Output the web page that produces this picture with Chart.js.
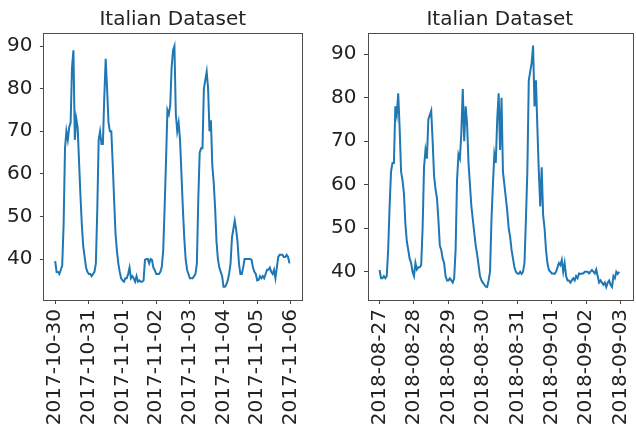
<!DOCTYPE html>
<html><head><meta charset="utf-8">
<script src="https://cdn.jsdelivr.net/npm/chart.js@4.4.1/dist/chart.umd.min.js"></script>
<style>
html,body{margin:0;padding:0;background:#fff;overflow:hidden;width:636px;height:426px}
#wrap{position:relative;width:636px;height:426px;overflow:hidden;background:#fff}
canvas{position:absolute;top:0}
</style></head><body>
<div id="wrap">
<canvas id="c1" width="320" height="426" style="left:0px;width:320px;height:426px"></canvas>
<canvas id="c2" width="330" height="426" style="left:320px;width:330px;height:426px"></canvas>
</div>
<script>
const titleText = 'Italian Dataset';
const tickHours = [0, 24, 48, 72, 96, 120, 144, 168];
const leftTickLabels = ['2017-10-30','2017-10-31','2017-11-01','2017-11-02','2017-11-03','2017-11-04','2017-11-05','2017-11-06'];
const rightTickLabels = ['2018-08-27','2018-08-28','2018-08-29','2018-08-30','2018-08-31','2018-09-01','2018-09-02','2018-09-03'];
const yTicks = [40, 50, 60, 70, 80, 90];

// hourly values, left panel (2017-10-30 00:00 .. 2017-11-05 23:00)
const leftValues = [
  39.5, 37, 37, 36.5, 37.5, 38.5, 48, 66, 70, 68, 71, 72, 85, 89, 68, 73, 71, 63, 55, 48, 43, 40.5, 38, 37,
  36.5, 36.5, 36, 36.5, 37, 39, 51.5, 68, 70, 67, 67, 78, 87, 80, 72, 70, 70, 62.5, 54, 46, 42, 39, 37, 35.5,
  35, 34.7, 35.5, 35.5, 36.5, 38, 35.5, 36, 35.5, 34.7, 36, 34.7, 35, 34.7, 34.7, 35, 39.8, 40, 40, 39, 40, 39.8, 38, 37.4,
  36.5, 36.5, 36.5, 37, 38.2, 42, 52, 63, 75, 74, 76, 85, 89, 90, 74, 70, 72, 68, 60, 52, 45, 40, 37.5, 36.5,
  35.5, 35.5, 35.5, 36, 36.5, 39, 54, 65, 66, 66, 80, 82, 84, 80, 70, 72.6, 62, 58, 52, 44, 40, 38, 37, 36,
  33.5, 33.5, 34, 35, 36.6, 39, 45, 47, 49, 47, 44, 39, 36.5, 36.5, 38, 40, 40, 40, 40, 40, 39.8, 38, 37, 36.5,
  35, 35.1, 36, 35.5, 36, 35.5, 36.5, 37.5, 37.5, 38, 37, 36.5, 37.5, 35.5, 38, 40.5, 41, 41, 41, 40.5, 40.5, 41, 40.5, 39
];

// hourly values, right panel (2018-08-27 00:00 .. 2018-09-02 23:00)
const rightValues = [
  40.4, 38.5, 38.5, 39, 38.5, 39, 45, 55, 63, 65, 65, 78, 76, 81, 73, 63, 61, 58, 51, 47, 45, 43, 42, 40,
  39, 42, 40.5, 41, 41, 41.5, 50, 64, 68, 66, 75, 76, 77, 70, 62, 59, 57, 52, 46, 45, 43, 42, 39, 38,
  38, 38.5, 38, 37.5, 38.5, 45, 61, 67, 66, 72, 82, 70, 78, 74, 65, 60, 55, 52, 49, 46, 44, 41.5, 39, 38,
  37.5, 37, 36.6, 36.5, 38, 40, 52, 60, 67, 65, 75, 81, 68, 80, 63, 60, 57, 54, 50, 48, 45, 43, 41, 40,
  39.6, 39.5, 40, 39.5, 40, 42, 52, 63, 84, 86, 88, 92, 78, 84, 73, 63, 55, 64, 53, 50, 45, 42, 40.4, 40,
  39.6, 39.6, 39.5, 40, 41, 42, 41.5, 42.7, 40, 42, 39, 38, 38, 37.5, 38, 38.5, 38, 39, 38.5, 39.6, 39.5, 39.6, 39.6, 40,
  40, 40, 39.6, 40, 40.4, 40, 39.6, 40.5, 39, 37.5, 38, 37.5, 37, 37.5, 36.5, 37.5, 38, 37, 36.5, 39, 38.5, 40, 39.5, 40
];

Chart.defaults.font.family = "'DejaVu Sans', sans-serif";
Chart.defaults.font.size = 20;
Chart.defaults.color = '#222';

const framePlugin = {
  id: 'frame',
  afterDraw(chart) {
    const {ctx, chartArea: a} = chart;
    ctx.save();
    ctx.strokeStyle = '#4d4d4d';
    ctx.lineWidth = 1;
    ctx.strokeRect(Math.round(a.left) + 0.5, Math.round(a.top) + 0.5, Math.round(a.right - a.left), Math.round(a.bottom - a.top));
    // axes title, centred over the plot area
    ctx.fillStyle = '#222';
    ctx.font = "20px 'DejaVu Sans', sans-serif";
    ctx.textAlign = 'center';
    ctx.textBaseline = 'middle';
    ctx.fillText(titleText, (a.left + a.right) / 2, 19.8);
    ctx.restore();
  }
};

function makeChart(id, values, tickLabels, yMin, yMax, yWidth, padRight) {
  const pts = values.map((v, i) => ({x: i, y: v}));
  return new Chart(document.getElementById(id), {
    type: 'line',
    data: { datasets: [{ data: pts, borderColor: '#1f77b4', borderWidth: 2, pointRadius: 0, tension: 0, fill: false }] },
    options: {
      responsive: false,
      animation: false,
      events: [],
      layout: { autoPadding: false, padding: { left: 0, right: padRight, top: 33.3, bottom: 0 } },
      plugins: {
        legend: { display: false },
        tooltip: { enabled: false },
        title: { display: false }
      },
      scales: {
        x: {
          type: 'linear', min: -8.4, max: 176,
          afterBuildTicks: s => { s.ticks = tickHours.map(v => ({ value: v })); },
          afterFit: s => { s.height = 126; },
          ticks: { autoSkip: false, minRotation: 90, maxRotation: 90, padding: 5, color: '#222',
                   callback: v => tickLabels[tickHours.indexOf(v)] },
          grid: { drawOnChartArea: false, drawTicks: true, tickLength: 4, tickColor: '#444', tickWidth: 1 },
          border: { display: false }
        },
        y: {
          type: 'linear', min: yMin, max: yMax,
          afterBuildTicks: s => { s.ticks = yTicks.map(v => ({ value: v })); },
          afterFit: s => { s.width = yWidth; },
          ticks: { padding: 7.5, color: '#222', callback: v => String(v) },
          grid: { drawOnChartArea: false, drawTicks: true, tickLength: 3.5, tickColor: '#444', tickWidth: 1 },
          border: { display: false }
        }
      }
    },
    plugins: [framePlugin]
  });
}

makeChart('c1', leftValues, leftTickLabels, 30.4, 93.0, 43.4, 3);
makeChart('c2', rightValues, rightTickLabels, 33.5, 94.8, 47.5, 9);
</script>
</body></html>
